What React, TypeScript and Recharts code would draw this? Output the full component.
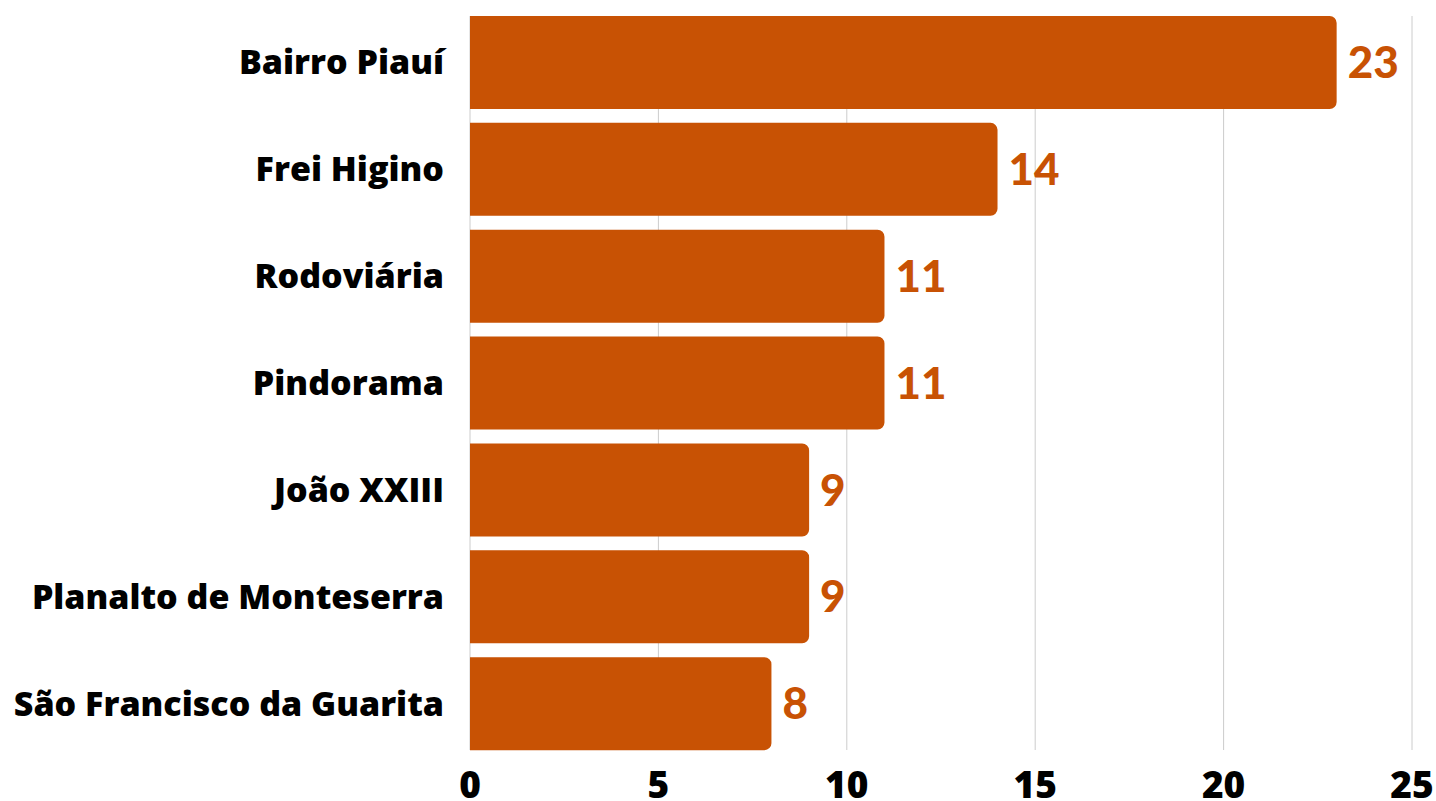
import React from "react";
import {
  BarChart,
  Bar,
  XAxis,
  YAxis,
  CartesianGrid,
  LabelList,
} from "recharts";

const bairros = [
  "Bairro Piauí",
  "Frei Higino",
  "Rodoviária",
  "Pindorama",
  "João XXIII",
  "Planalto de Monteserra",
  "São Francisco da Guarita",
];
const valores = [23, 14, 11, 11, 9, 9, 8];
const xTicks = [0, 5, 10, 15, 20, 25];

const data = bairros.map((name, i) => ({ name, value: valores[i] }));

const ORANGE = "#C85204";

function CategoryTick(props: any) {
  const { x, y, payload } = props;
  return (
    <text
      x={x}
      y={y}
      dy={12}
      textAnchor="end"
      fill="#000"
      fontFamily="'Open Sans', sans-serif"
      fontWeight={800}
      fontSize={34}
    >
      {payload.value}
    </text>
  );
}

function NumberTick(props: any) {
  const { x, y, payload } = props;
  return (
    <text
      x={x}
      y={y}
      dy={42}
      textAnchor="middle"
      fill="#000"
      fontFamily="'Open Sans', sans-serif"
      fontWeight={800}
      fontSize={37}
    >
      {payload.value}
    </text>
  );
}

export default function App() {
  return (
    <div style={{ position: "absolute", left: 0, top: 0, background: "#fff" }}>
      <BarChart
        width={1436}
        height={801}
        data={data}
        layout="vertical"
        margin={{ top: 16, right: 24, left: 0, bottom: 0 }}
      >
        <CartesianGrid horizontal={false} stroke="#cccccc" />
        <XAxis
          type="number"
          domain={[0, 25]}
          ticks={xTicks}
          axisLine={false}
          tickLine={false}
          tickMargin={0}
          height={51}
          tick={<NumberTick />}
        />
        <YAxis
          type="category"
          dataKey="name"
          width={470}
          axisLine={false}
          tickLine={false}
          tickMargin={20}
          padding={{ top: -7, bottom: -7 }}
          tick={<CategoryTick />}
        />
        <Bar
          dataKey="value"
          fill={ORANGE}
          barSize={93}
          radius={[0, 7, 7, 0]}
          isAnimationActive={false}
        >
          <LabelList
            dataKey="value"
            position="right"
            offset={11}
            fill={ORANGE}
            fontFamily="Lato, sans-serif"
            fontWeight={900}
            fontSize={44}
          />
        </Bar>
      </BarChart>
    </div>
  );
}
